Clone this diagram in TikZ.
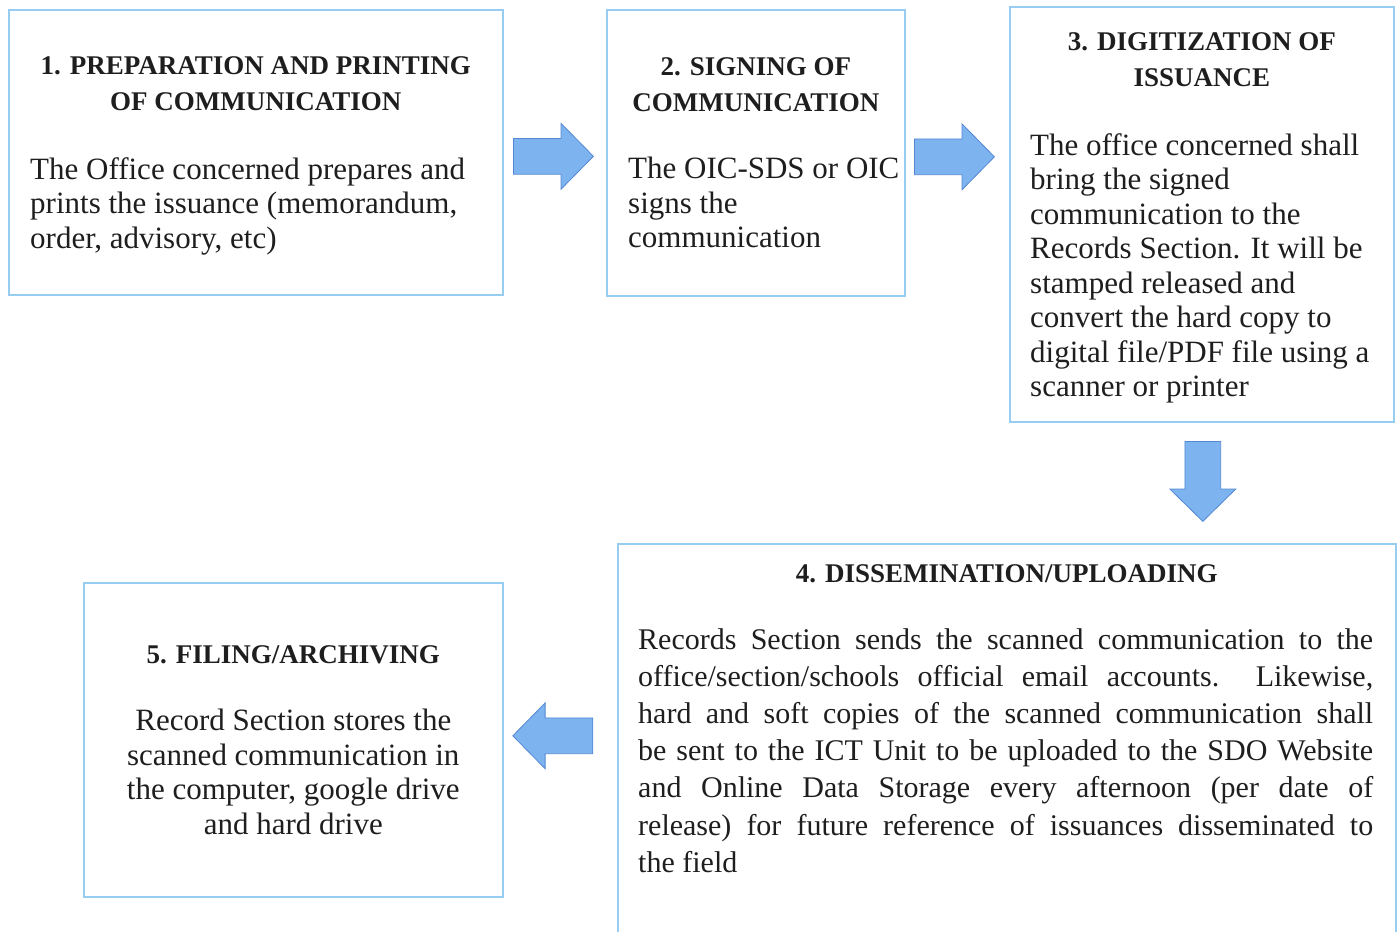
\documentclass[tikz,border=0pt]{standalone}
\usepackage{fontspec}
\setmainfont{Liberation Serif}
\usetikzlibrary{calc,shapes.arrows}
\definecolor{frameblue}{RGB}{150,205,240}
\definecolor{arrowfill}{RGB}{125,180,240}
\definecolor{arrowedge}{RGB}{85,135,210}
\definecolor{inktext}{RGB}{30,30,30}
\begin{document}
\begin{tikzpicture}[x=1pt,y=-1pt,
  stepbox/.style={draw=frameblue, line width=1.6pt, rectangle, inner sep=0pt, anchor=north west},
  headtext/.style={inner sep=0pt, anchor=north, align=center, text=inktext,
    font={\fontsize{27}{36}\selectfont\bfseries}},
  bodytext/.style={inner sep=0pt, anchor=north west, align=left, text=inktext,
    font={\fontsize{31}{34.5}\selectfont}},
  flowarrow/.style={single arrow, draw=arrowedge, fill=arrowfill, line width=0.8pt,
    inner sep=17.5pt, minimum height=80pt,
    single arrow head extend=15pt, single arrow tip angle=91}
]
\useasboundingbox (0,0) rectangle (1398,932);
\begin{scope}
\clip (0,0) rectangle (1398,932);

% step frames
\node[stepbox, minimum width=494pt, minimum height=285pt] (b1) at (8,9) {};
\node[stepbox, minimum width=298pt, minimum height=286pt] (b2) at (606,9) {};
\node[stepbox, minimum width=384pt, minimum height=415pt] (b3) at (1009,6) {};
\node[stepbox, minimum width=778pt, minimum height=420pt] (b4) at (617,543) {};
\node[stepbox, minimum width=419pt, minimum height=314pt] (b5) at (83,582) {};

% step 1
\node[headtext] (h1) at ($(b1.north)+(0,47)$) {1. PREPARATION AND PRINTING\\OF COMMUNICATION};
\node[bodytext] (t1) at ($(b1.north west)+(22,148)$)
  {The Office concerned prepares and\\prints the issuance (memorandum,\\order, advisory, etc)};

% step 2
\node[headtext] (h2) at ($(b2.north)+(0,48)$) {2. SIGNING OF\\COMMUNICATION};
\node[bodytext] (t2) at ($(b2.north west)+(22,148)$)
  {The OIC-SDS or OIC\\signs the\\communication};

% step 3
\node[headtext] (h3) at ($(b3.north)+(0,26)$) {3. DIGITIZATION OF\\ISSUANCE};
\node[bodytext] (t3) at ($(b3.north west)+(21,127)$)
  {The office concerned shall\\bring the signed\\communication to the\\Records Section. It will be\\stamped released and\\convert the hard copy to\\digital file/PDF file using a\\scanner or printer};

% step 4
\node[headtext] (h4) at ($(b4.north)+(0,21)$) {4. DISSEMINATION/UPLOADING};
\node[bodytext, align=justify, text width=735pt, font={\fontsize{30}{37.2}\selectfont}] (t4)
  at ($(b4.north west)+(21,85)$)
  {Records Section sends the scanned communication to the\linebreak
   office/section/schools official email accounts.\ \ Likewise,\linebreak
   hard and soft copies of the scanned communication shall\linebreak
   be sent to the ICT Unit to be uploaded to the SDO Website\linebreak
   and Online Data Storage every afternoon (per date of\linebreak
   release) for future reference of issuances disseminated to\linebreak
   the field};

% step 5
\node[headtext] (h5) at ($(b5.north)+(0,63)$) {5. FILING/ARCHIVING};
\node[bodytext, anchor=north, align=center] (t5) at ($(b5.north)+(0,127)$)
  {Record Section stores the\\scanned communication in\\the computer, google drive\\and hard drive};

% flow arrows between steps
\node[flowarrow] (a12) at ($(b1.east)+(41,4)$) {};
\node[flowarrow] (a23) at ($(b2.east)+(40,4)$) {};
\node[flowarrow, shape border rotate=270] (a34) at ($(b3.south)+(1,50)$) {};
\node[flowarrow, shape border rotate=180] (a45) at ($(b5.east)+(58,-4)$) {};
\end{scope}
\end{tikzpicture}
\end{document}
